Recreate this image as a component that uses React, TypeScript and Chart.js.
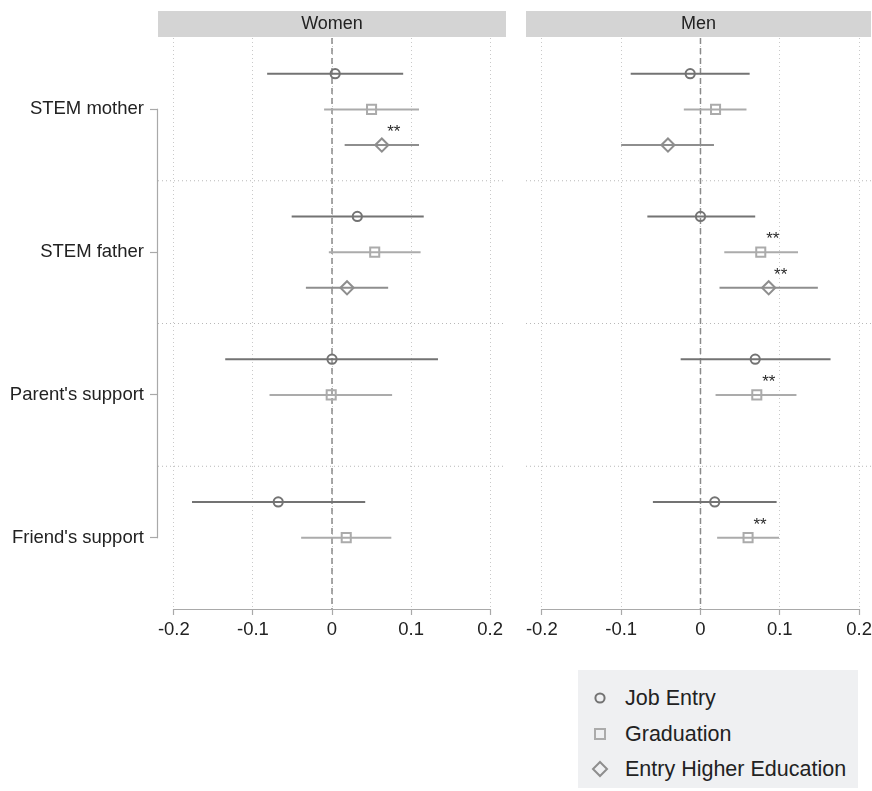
import React, { useEffect, useRef } from "react";
import { Chart, registerables } from "chart.js";

Chart.register(...registerables);

// ---------- data ----------
const categories = ["STEM mother", "STEM father", "Parent's support", "Friend's support"];
const seriesNames = ["Job Entry", "Graduation", "Entry Higher Education"];
const panelTitles = ["Women", "Men"];
const xTickValues = [-0.2, -0.1, 0, 0.1, 0.2];
const xTickLabels = ["-0.2", "-0.1", "0", "0.1", "0.2"];

// Women
const womenJobEst = [0.004, 0.032, 0.0, -0.068];
const womenJobLo = [-0.082, -0.051, -0.135, -0.177];
const womenJobHi = [0.09, 0.116, 0.134, 0.042];
const womenJobSig = ["", "", "", ""];
const womenGradEst = [0.05, 0.054, -0.001, 0.018];
const womenGradLo = [-0.01, -0.004, -0.079, -0.039];
const womenGradHi = [0.11, 0.112, 0.076, 0.075];
const womenGradSig = ["", "", "", ""];
const womenHeEst = [0.063, 0.019, null, null];
const womenHeLo = [0.016, -0.033, null, null];
const womenHeHi = [0.11, 0.071, null, null];
const womenHeSig = ["**", "", "", ""];

// Men
const menJobEst = [-0.013, 0.0, 0.069, 0.018];
const menJobLo = [-0.088, -0.067, -0.025, -0.06];
const menJobHi = [0.062, 0.069, 0.164, 0.096];
const menJobSig = ["", "", "", ""];
const menGradEst = [0.019, 0.076, 0.071, 0.06];
const menGradLo = [-0.021, 0.03, 0.019, 0.021];
const menGradHi = [0.058, 0.123, 0.121, 0.099];
const menGradSig = ["", "**", "**", "**"];
const menHeEst = [-0.041, 0.086, null, null];
const menHeLo = [-0.1, 0.024, null, null];
const menHeHi = [0.017, 0.148, null, null];
const menHeSig = ["", "**", "", ""];

// ---------- styling ----------
const FONT = '"Liberation Sans", Arial, Helvetica, sans-serif';
const seriesColors = ["#737373", "#ababab", "#8e8e8e"];
const seriesStyles = ["circle", "rect", "rectRot"];
const seriesRadius = [4.6, 6.4, 6.6];
const seriesOffsets = [-0.25, 0, 0.25];

type Series = {
  est: (number | null)[];
  lo: (number | null)[];
  hi: (number | null)[];
  sig: string[];
};

const womenSeries: Series[] = [
  { est: womenJobEst, lo: womenJobLo, hi: womenJobHi, sig: womenJobSig },
  { est: womenGradEst, lo: womenGradLo, hi: womenGradHi, sig: womenGradSig },
  { est: womenHeEst, lo: womenHeLo, hi: womenHeHi, sig: womenHeSig },
];
const menSeries: Series[] = [
  { est: menJobEst, lo: menJobLo, hi: menJobHi, sig: menJobSig },
  { est: menGradEst, lo: menGradLo, hi: menGradHi, sig: menGradSig },
  { est: menHeEst, lo: menHeLo, hi: menHeHi, sig: menHeSig },
];

function buildDatasets(series: Series[], xMin: number, xMax: number) {
  const ds: any[] = [];
  // group separators
  for (let k = 0; k < categories.length - 1; k++) {
    const y = k + 0.5;
    ds.push({
      type: "line",
      data: [
        { x: xMin, y },
        { x: xMax, y },
      ],
      borderColor: "#b8b8b8",
      borderWidth: 1,
      borderDash: [1, 3],
      pointRadius: 0,
      order: 20,
    });
  }
  // zero reference line
  ds.push({
    type: "line",
    data: [
      { x: 0, y: -0.5 },
      { x: 0, y: categories.length - 0.5 },
    ],
    borderColor: "#8a8a8a",
    borderWidth: 1.5,
    borderDash: [6, 4],
    pointRadius: 0,
    order: 15,
  });
  // confidence intervals
  series.forEach((s, si) => {
    categories.forEach((_, i) => {
      const lo = s.lo[i];
      const hi = s.hi[i];
      if (lo == null || hi == null) return;
      const y = i + seriesOffsets[si];
      ds.push({
        type: "line",
        data: [
          { x: lo, y },
          { x: hi, y },
        ],
        borderColor: seriesColors[si],
        borderWidth: 2,
        pointRadius: 0,
        order: 5,
      });
    });
  });
  // point estimates
  series.forEach((s, si) => {
    const pts: any[] = [];
    categories.forEach((_, i) => {
      const e = s.est[i];
      if (e == null) return;
      pts.push({ x: e, y: i + seriesOffsets[si] });
    });
    ds.push({
      type: "scatter",
      label: seriesNames[si],
      data: pts,
      pointStyle: seriesStyles[si],
      pointRadius: seriesRadius[si],
      pointBorderWidth: 2,
      borderWidth: 2,
      borderColor: seriesColors[si],
      pointBorderColor: seriesColors[si],
      backgroundColor: "rgba(0,0,0,0)",
      pointBackgroundColor: "rgba(0,0,0,0)",
      order: 1,
    });
  });
  return ds;
}

const decorPlugin = {
  id: "decor",
  beforeDraw(chart: any, _args: any, opts: any) {
    const { ctx, chartArea: a } = chart;
    ctx.save();
    ctx.fillStyle = "#d4d4d4";
    ctx.fillRect(a.left, 11, a.right - a.left, 26);
    ctx.fillStyle = "#222222";
    ctx.font = `18px ${FONT}`;
    ctx.textAlign = "center";
    ctx.textBaseline = "middle";
    ctx.fillText(opts.title, (a.left + a.right) / 2, 24.5);
    ctx.restore();
  },
  afterDraw(chart: any, _args: any, opts: any) {
    const { ctx, chartArea: a } = chart;
    const xs = chart.scales.x;
    const ys = chart.scales.y;
    ctx.save();
    ctx.strokeStyle = "#a9a9a9";
    ctx.lineWidth = 1.2;
    // x axis line between first and last tick
    ctx.beginPath();
    const yb = Math.round(a.bottom) + 0.5;
    ctx.moveTo(xs.getPixelForValue(xTickValues[0]) - 0.6, yb);
    ctx.lineTo(xs.getPixelForValue(xTickValues[xTickValues.length - 1]) + 0.6, yb);
    ctx.stroke();
    if (opts.yAxis) {
      const xl = Math.round(a.left) - 0.5;
      ctx.beginPath();
      ctx.moveTo(xl, ys.getPixelForValue(0) - 0.6);
      ctx.lineTo(xl, ys.getPixelForValue(categories.length - 1) + 0.6);
      ctx.stroke();
    }
    // significance stars
    ctx.fillStyle = "#2a2a2a";
    ctx.font = `17px ${FONT}`;
    ctx.textAlign = "center";
    ctx.textBaseline = "alphabetic";
    (opts.series as Series[]).forEach((s, si) => {
      categories.forEach((_, i) => {
        const e = s.est[i];
        const sig = s.sig[i];
        if (e == null || !sig) return;
        const px = xs.getPixelForValue(e) + 12;
        const py = ys.getPixelForValue(i + seriesOffsets[si]) - 8;
        ctx.fillText(sig, px, py);
      });
    });
    ctx.restore();
  },
};

function makeChart(
  canvas: HTMLCanvasElement,
  series: Series[],
  title: string,
  showY: boolean,
  xMin: number,
  xMax: number,
  padding: { left: number; right: number; top: number; bottom: number }
) {
  return new Chart(canvas, {
    type: "scatter",
    data: { datasets: buildDatasets(series, xMin, xMax) },
    plugins: [decorPlugin],
    options: {
      responsive: false,
      animation: false,
      events: [],
      layout: { padding, autoPadding: false },
      plugins: {
        legend: { display: false },
        tooltip: { enabled: false },
        title: { display: false },
        decor: { title, yAxis: showY, series },
      } as any,
      scales: {
        x: {
          type: "linear",
          min: xMin,
          max: xMax,
          afterBuildTicks: (s: any) => {
            s.ticks = xTickValues.map((v) => ({ value: v }));
          },
          afterFit: (s: any) => {
            s.height = 51;
            s.paddingLeft = 0;
            s.paddingRight = 0;
          },
          ticks: {
            autoSkip: false,
            maxRotation: 0,
            padding: 4,
            color: "#222222",
            font: { family: FONT, size: 18.5 },
            callback: (_v: any, i: number) => xTickLabels[i],
          },
          grid: {
            display: true,
            drawOnChartArea: true,
            drawTicks: true,
            color: "#c9c9c9",
            lineWidth: 1,
            tickLength: 6,
            tickColor: "#a9a9a9",
            tickWidth: 1.2,
          },
          border: { display: false, dash: [1, 3] },
        },
        y: {
          type: "linear",
          display: showY,
          min: -0.5,
          max: categories.length - 0.5,
          reverse: true,
          afterBuildTicks: (s: any) => {
            s.ticks = categories.map((_, i) => ({ value: i }));
          },
          afterFit: (s: any) => {
            s.width = showY ? 158 : 0;
            s.paddingTop = 0;
            s.paddingBottom = 0;
          },
          ticks: {
            autoSkip: false,
            padding: 6,
            color: "#222222",
            font: { family: FONT, size: 18.5 },
            callback: (v: any) => categories[Math.round(Number(v))],
          },
          grid: {
            display: true,
            drawOnChartArea: false,
            drawTicks: true,
            tickLength: 8,
            color: "#a9a9a9",
            tickColor: "#a9a9a9",
            tickWidth: 1.2,
          },
          border: { display: false },
        },
      },
    } as any,
  });
}

function LegendMarker({ idx }: { idx: number }) {
  const c = seriesColors[idx];
  const cx = 22;
  const cy = 14;
  let shape: any;
  if (idx === 0) shape = <circle cx={cx} cy={cy} r={4.6} fill="none" stroke={c} strokeWidth={2} />;
  else if (idx === 1) shape = <rect x={cx - 5} y={cy - 5} width={10} height={10} fill="none" stroke={c} strokeWidth={2} />;
  else
    shape = (
      <polygon
        points={`${cx},${cy - 7} ${cx + 7},${cy} ${cx},${cy + 7} ${cx - 7},${cy}`}
        fill="none"
        stroke={c}
        strokeWidth={2}
      />
    );
  return (
    <svg width={47} height={28} style={{ display: "block", flex: "0 0 auto" }}>
      {shape}
    </svg>
  );
}

export default function App() {
  const leftRef = useRef<HTMLCanvasElement | null>(null);
  const rightRef = useRef<HTMLCanvasElement | null>(null);

  useEffect(() => {
    const charts: Chart[] = [];
    if (leftRef.current) {
      charts.push(
        makeChart(leftRef.current, womenSeries, panelTitles[0], true, -0.22, 0.22, {
          left: 0,
          right: 14,
          top: 38,
          bottom: 0,
        })
      );
    }
    if (rightRef.current) {
      charts.push(
        makeChart(rightRef.current, menSeries, panelTitles[1], false, -0.22, 0.215, {
          left: 6,
          right: 1,
          top: 38,
          bottom: 0,
        })
      );
    }
    return () => charts.forEach((c) => c.destroy());
  }, []);

  return (
    <div
      style={{
        position: "absolute",
        left: 0,
        top: 0,
        width: 872,
        height: 791,
        background: "#ffffff",
        overflow: "hidden",
      }}
    >
      <canvas
        ref={leftRef}
        width={520}
        height={660}
        style={{ position: "absolute", left: 0, top: 0, width: 520, height: 660 }}
      />
      <canvas
        ref={rightRef}
        width={352}
        height={660}
        style={{ position: "absolute", left: 520, top: 0, width: 352, height: 660 }}
      />
      <div
        style={{
          position: "absolute",
          left: 578,
          top: 670,
          width: 280,
          height: 118,
          background: "#eff0f2",
          fontFamily: FONT,
          fontSize: 21.5,
          color: "#222222",
        }}
      >
        {seriesNames.map((n, i) => (
          <div
            key={n}
            style={{
              position: "absolute",
              left: 0,
              top: 14 + i * 35.5,
              height: 28,
              display: "flex",
              alignItems: "center",
              whiteSpace: "nowrap",
            }}
          >
            <LegendMarker idx={i} />
            <span style={{ lineHeight: "28px" }}>{n}</span>
          </div>
        ))}
      </div>
    </div>
  );
}
